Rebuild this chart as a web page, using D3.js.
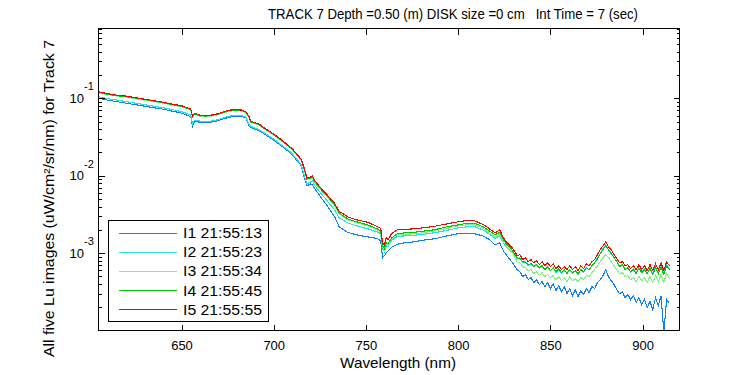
<!DOCTYPE html>
<html><head><meta charset="utf-8">
<script src="https://cdn.jsdelivr.net/npm/d3@7"></script>
<style>
body{margin:0;background:#fff}
svg{display:block}
text{font-family:"Liberation Sans",Arial,Helvetica,sans-serif;fill:#000}
</style></head>
<body><svg id="c" width="750" height="375"></svg>
<script>
const wavelength = [605,610,615,620,625,630,635,640,645,650,653,655,656,657,660,663,666,670,673,676,
680,683,685,686.5,687.5,689,692,695,700,705,710,715,716.5,718,720,721,722,725,729,733,
735.5,740,745,751,756,758,759,760,761,762,764,767,771,776,781,787,794,800,805,809,
814,817,820,822.5,824.5,826,829,
830.5,832,833.5,835,836.5,838,839.5,841,842.5,844,845.5,847,848.5,850,851.5,853,854.5,856,857.5,859,
860.5,862,863.5,865,866.5,868,869.5,871,872.5,874,875.5,877,878.5,880,881.5,883,884.5,886,887.5,889,
890.5,892,893.5,895,896.5,898,899.5,901,902.5,904,905.5,907,908.5,910,911.5,913,914.5];

const I1 = [0.1006,0.0949,0.0907,0.0867,0.0828,0.0792,0.0758,0.0725,0.0684,0.0645,
0.0607,0.0581,0.0439,0.0500,0.0493,0.0486,0.0493,0.0516,0.0547,0.0572,
0.0590,0.0581,0.0556,0.0452,0.0426,0.0407,0.0383,0.0346,0.0289,0.0235,
0.0188,0.0134,0.00964,0.00739,0.00783,0.00761,0.00697,0.00550,0.00408,0.00295,
0.00219,0.00186,0.00172,0.00162,0.00155,0.00144,0.000873,0.000925,0.00101,0.00107,
0.00120,0.00130,0.00136,0.00140,0.00147,0.00153,0.00167,0.00178,0.00181,0.00178,
0.00165,0.00149,0.00128,0.00136,0.00107,0.000953,0.000774,
0.000688,0.000611,0.000575,0.000497,0.000527,0.000454,0.000482,0.000416,0.000454,0.000392,
0.000428,0.000369,0.000416,0.000348,0.000404,0.000328,0.000380,0.000318,0.000369,0.000300,
0.000348,0.000282,0.000337,0.000274,0.000328,0.000291,0.000348,0.000309,0.000369,0.000348,
0.000416,0.000454,0.000512,0.000611,0.000497,0.000441,0.000392,0.000337,0.000300,0.000318,
0.000266,0.000291,0.000251,0.000282,0.000230,0.000266,0.000216,0.000251,0.000198,0.000237,
0.000186,0.000266,0.000210,0.000282,0.0000942,0.000251,0.000223];

const I2 = [0.105,0.0992,0.0949,0.0907,0.0867,0.0828,0.0792,0.0758,0.0715,0.0674,
0.0635,0.0607,0.0466,0.0524,0.0508,0.0500,0.0508,0.0531,0.0564,0.0590,
0.0607,0.0598,0.0572,0.0466,0.0439,0.0420,0.0395,0.0356,0.0298,0.0242,
0.0194,0.0138,0.0102,0.00783,0.00832,0.00857,0.00761,0.00618,0.00474,0.00362,
0.00286,0.00246,0.00225,0.00206,0.00189,0.00178,0.00114,0.00104,0.00124,0.00122,
0.00147,0.00165,0.00167,0.00170,0.00175,0.00183,0.00197,0.00212,0.00219,0.00219,
0.00197,0.00175,0.00155,0.00167,0.00136,0.00120,0.00104,
0.000953,0.000847,0.000873,0.000752,0.000774,0.000688,0.000730,0.000688,0.000709,0.000630,
0.000668,0.000611,0.000649,0.000593,0.000649,0.000559,0.000611,0.000543,0.000593,0.000559,
0.000611,0.000543,0.000593,0.000527,0.000611,0.000559,0.000649,0.000611,0.000688,0.000752,
0.000873,0.000982,0.00114,0.00128,0.00111,0.00101,0.000873,0.000774,0.000688,0.000709,
0.000630,0.000649,0.000575,0.000630,0.000559,0.000649,0.000575,0.000630,0.000543,0.000649,
0.000543,0.000668,0.000559,0.000688,0.000543,0.000709,0.000630];

const I3 = [0.118,0.112,0.107,0.104,0.0991,0.0949,0.0907,0.0867,0.0816,0.0780,
0.0736,0.0705,0.0572,0.0625,0.0590,0.0581,0.0590,0.0616,0.0654,0.0684,
0.0694,0.0684,0.0645,0.0572,0.0493,0.0479,0.0452,0.0401,0.0336,0.0273,
0.0218,0.0157,0.0120,0.00896,0.00923,0.00937,0.00832,0.00676,0.00534,0.00408,
0.00322,0.00269,0.00246,0.00225,0.00200,0.00189,0.00120,0.00111,0.00132,0.00128,
0.00153,0.00172,0.00175,0.00178,0.00183,0.00194,0.00209,0.00225,0.00232,0.00232,
0.00206,0.00183,0.00162,0.00178,0.00140,0.00124,0.00104,
0.000898,0.000774,0.000752,0.000668,0.000649,0.000593,0.000611,0.000543,0.000575,0.000512,
0.000559,0.000497,0.000527,0.000482,0.000512,0.000454,0.000497,0.000441,0.000482,0.000428,
0.000497,0.000441,0.000468,0.000428,0.000482,0.000454,0.000512,0.000497,0.000559,0.000611,
0.000688,0.000774,0.000873,0.000953,0.000873,0.000774,0.000688,0.000611,0.000543,0.000559,
0.000497,0.000512,0.000454,0.000482,0.000428,0.000497,0.000441,0.000482,0.000416,0.000497,
0.000416,0.000512,0.000428,0.000527,0.000416,0.000543,0.000468];

const I4 = [0.120,0.113,0.108,0.105,0.101,0.0963,0.0921,0.0880,0.0828,0.0792,
0.0747,0.0715,0.0581,0.0635,0.0598,0.0590,0.0598,0.0625,0.0664,0.0694,
0.0705,0.0694,0.0654,0.0581,0.0500,0.0486,0.0459,0.0407,0.0341,0.0277,
0.0221,0.0160,0.0122,0.00909,0.00937,0.00964,0.00857,0.00697,0.00550,0.00421,
0.00332,0.00277,0.00254,0.00232,0.00206,0.00194,0.00124,0.00114,0.00136,0.00132,
0.00158,0.00178,0.00183,0.00186,0.00192,0.00200,0.00219,0.00232,0.00243,0.00243,
0.00216,0.00194,0.00172,0.00186,0.00149,0.00132,0.00112,
0.000982,0.000873,0.000847,0.000774,0.000752,0.000709,0.000730,0.000668,0.000709,0.000649,
0.000688,0.000611,0.000668,0.000593,0.000649,0.000575,0.000630,0.000559,0.000611,0.000543,
0.000611,0.000559,0.000593,0.000543,0.000611,0.000575,0.000649,0.000611,0.000688,0.000752,
0.000847,0.000982,0.00111,0.00124,0.00111,0.000982,0.000873,0.000774,0.000668,0.000709,
0.000611,0.000649,0.000575,0.000611,0.000543,0.000630,0.000559,0.000611,0.000543,0.000630,
0.000527,0.000649,0.000543,0.000668,0.000527,0.000688,0.000611];

const I5 = [0.122,0.115,0.110,0.107,0.102,0.0977,0.0935,0.0893,0.0841,0.0804,
0.0758,0.0725,0.0590,0.0645,0.0607,0.0598,0.0607,0.0635,0.0674,0.0705,
0.0715,0.0705,0.0664,0.0590,0.0508,0.0493,0.0466,0.0413,0.0346,0.0281,
0.0224,0.0162,0.0126,0.00937,0.00964,0.00993,0.00883,0.00717,0.00566,0.00440,
0.00347,0.00295,0.00269,0.00250,0.00222,0.00209,0.00136,0.00128,0.00158,0.00149,
0.00180,0.00200,0.00203,0.00206,0.00212,0.00222,0.00239,0.00254,0.00265,0.00261,
0.00232,0.00206,0.00183,0.00200,0.00158,0.00140,0.00120,
0.00107,0.000925,0.000953,0.000822,0.000873,0.000774,0.000822,0.000752,0.000798,0.000709,
0.000774,0.000688,0.000752,0.000668,0.000730,0.000630,0.000688,0.000611,0.000668,0.000611,
0.000688,0.000611,0.000668,0.000593,0.000688,0.000630,0.000730,0.000688,0.000774,0.000822,
0.000953,0.00111,0.00124,0.00140,0.00120,0.00111,0.000953,0.000847,0.000752,0.000774,
0.000688,0.000709,0.000630,0.000688,0.000611,0.000709,0.000611,0.000688,0.000593,0.000709,
0.000593,0.000730,0.000611,0.000752,0.000593,0.000774,0.000688];

const seriesNames = ["I1 21:55:13","I2 21:55:23","I3 21:55:34","I4 21:55:45","I5 21:55:55"];
const seriesColors = ["#0a80ff","#1ee6e6","#80f080","#00c800","#ff0000"];
const seriesData = [I1,I2,I3,I4,I5];
const xTicks = [650,700,750,800,850,900];
const yTicks = [1e-3,1e-2,1e-1];
const yTickExp = ["-3","-2","-1"];
const titleText = "TRACK 7 Depth =0.50 (m) DISK size =0 cm   Int Time = 7 (sec)";
const xLabel = "Wavelength (nm)";
const yLabel = "All five Lu images (uW/cm\u00B2/sr/nm) for Track 7";

const svg = d3.select("#c");
svg.append("rect").attr("width",750).attr("height",375).attr("fill","#fff");
const L=98.5,R=679.5,T=28.5,B=330.5;
const x = d3.scaleLinear().domain([605,920]).range([L,R]);
const y = d3.scaleLog().domain([1e-4,0.8]).range([B,T]);

svg.append("defs").append("clipPath").attr("id","clip")
  .append("rect").attr("x",L).attr("y",T).attr("width",R-L).attr("height",B-T);

const line = d3.line().x(d=>x(d[0])).y(d=>y(d[1]));
const gl = svg.append("g").attr("clip-path","url(#clip)");
seriesData.forEach((s,i)=>{
  gl.append("path").datum(wavelength.map((w,j)=>[w,s[j]]))
    .attr("d",line).attr("fill","none").attr("stroke",seriesColors[i])
    .attr("stroke-width",1.1).attr("shape-rendering","crispEdges");
});

const minors=[];
for(let k=-4;k<=-1;k++){for(let m=2;m<=9;m++){const v=m*Math.pow(10,k); if(v<=0.8) minors.push(v);}}

function styleAxis(g){
  g.select(".domain").remove();
  g.selectAll("line").attr("stroke","#000").attr("shape-rendering","crispEdges");
  g.selectAll("text").attr("font-size",13).attr("font-family",'"Liberation Sans",Arial,sans-serif');
}
svg.append("g").attr("transform",`translate(0,${B})`)
  .call(d3.axisBottom(x).tickValues(xTicks).tickSizeInner(-6).tickSizeOuter(0).tickPadding(10).tickFormat(d3.format("d")))
  .call(styleAxis);
svg.append("g").attr("transform",`translate(0,${T})`)
  .call(d3.axisTop(x).tickValues(xTicks).tickSizeInner(-6).tickSizeOuter(0).tickFormat(""))
  .call(styleAxis);
svg.append("g").attr("transform",`translate(${L},0)`)
  .call(d3.axisLeft(y).tickValues(yTicks).tickSizeInner(-6).tickSizeOuter(0).tickFormat(""))
  .call(styleAxis);
svg.append("g").attr("transform",`translate(${L},0)`)
  .call(d3.axisLeft(y).tickValues(minors).tickSizeInner(-3).tickSizeOuter(0).tickFormat(""))
  .call(styleAxis);
svg.append("g").attr("transform",`translate(${R},0)`)
  .call(d3.axisRight(y).tickValues(yTicks).tickSizeInner(-6).tickSizeOuter(0).tickFormat(""))
  .call(styleAxis);
svg.append("g").attr("transform",`translate(${R},0)`)
  .call(d3.axisRight(y).tickValues(minors).tickSizeInner(-3).tickSizeOuter(0).tickFormat(""))
  .call(styleAxis);

yTicks.forEach((v,i)=>{
  const yy=y(v);
  svg.append("text").attr("x",84).attr("y",yy+4.5).attr("text-anchor","end").attr("font-size",13).text("10");
  svg.append("text").attr("x",84).attr("y",yy-8).attr("text-anchor","start").attr("font-size",11).text(yTickExp[i]);
});

svg.append("rect").attr("x",L).attr("y",T).attr("width",R-L).attr("height",B-T)
  .attr("fill","none").attr("stroke","#000").attr("shape-rendering","crispEdges");

svg.append("text").attr("x",268).attr("y",19).attr("font-size",14.5)
  .attr("textLength",370).attr("lengthAdjust","spacingAndGlyphs")
  .style("white-space","pre").text(titleText);
svg.append("text").attr("x",340).attr("y",368).attr("font-size",14.5)
  .attr("textLength",116).attr("lengthAdjust","spacingAndGlyphs").text(xLabel);
svg.append("text").attr("transform",`translate(54,357) rotate(-90)`).attr("font-size",14.5)
  .attr("textLength",317).attr("lengthAdjust","spacingAndGlyphs").text(yLabel);

const lg = svg.append("g");
lg.append("rect").attr("x",108.5).attr("y",220.5).attr("width",160).attr("height",101)
  .attr("fill","#fff").attr("stroke","#000").attr("shape-rendering","crispEdges");
seriesNames.forEach((n,i)=>{
  const yy = 232.5 + i*19.2;
  lg.append("line").attr("x1",119).attr("x2",177).attr("y1",Math.round(yy)+0.5).attr("y2",Math.round(yy)+0.5)
    .attr("stroke",seriesColors[i]).attr("stroke-width",1).attr("shape-rendering","crispEdges");
  lg.append("text").attr("x",183).attr("y",yy+5.5).attr("font-size",14.5)
    .attr("textLength",79).attr("lengthAdjust","spacingAndGlyphs").text(n);
});
</script></body></html>
